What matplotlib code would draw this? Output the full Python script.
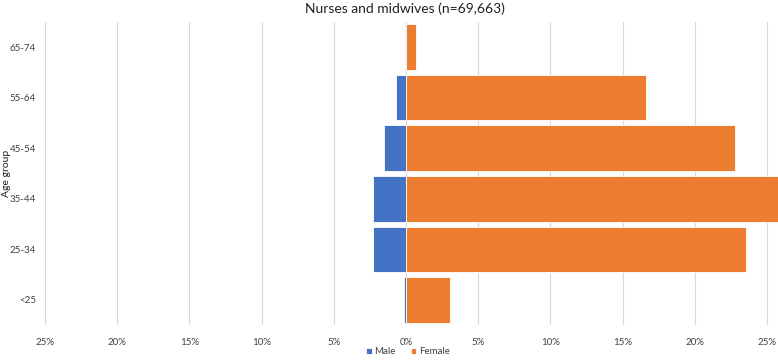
"""
Population pyramid: nurses and midwives by age group and sex.
"""
import matplotlib
matplotlib.use('Agg')
import matplotlib.pyplot as plt
from matplotlib.ticker import FuncFormatter

age_groups = ['<25', '25-34', '35-44', '45-54', '55-64', '65-74']
male_pct = [0.16, 2.3, 2.3, 1.52, 0.66, 0.05]
female_pct = [3.07, 23.56, 26.9, 22.8, 16.65, 0.67]
x_ticks = [-25, -20, -15, -10, -5, 0, 5, 10, 15, 20, 25]

BLUE = '#4472C4'
ORANGE = '#ED7D31'

plt.rcParams['font.family'] = ['Lato', 'DejaVu Sans']

fig = plt.figure(figsize=(7.78, 3.6), dpi=100)
ax = fig.add_axes([40 / 778, 0.0964, 1 - 40 / 778, 0.8433])

ypos = list(range(len(age_groups)))
ax.barh(ypos, [-v for v in male_pct], height=0.9, color=BLUE,
        edgecolor='white', linewidth=0.6, label='Male', zorder=3)
ax.barh(ypos, female_pct, height=0.9, color=ORANGE,
        edgecolor='white', linewidth=0.6, label='Female', zorder=3)

ax.set_xlim(-25.35, 25.77)
ax.set_ylim(-0.5, len(age_groups) - 0.5)
ax.set_xticks(x_ticks)
ax.xaxis.set_major_formatter(FuncFormatter(lambda v, p: f'{abs(int(round(v)))}%'))
ax.set_yticks(ypos)
ax.set_yticklabels(age_groups)
ax.tick_params(axis='both', length=0, labelsize=7, colors='#404040')
ax.tick_params(axis='x', pad=9)
ax.tick_params(axis='y', pad=3)
ax.grid(axis='x', color='#d9d9d9', linewidth=0.8, zorder=0)
for s in ax.spines.values():
    s.set_visible(False)

ax.set_ylabel('Age group', fontsize=7.5, color='#202020')
ax.yaxis.set_label_coords(-0.039, 0.5)

fig.text(405 / 778, 1 - 9 / 360, 'Nurses and midwives (n=69,663)',
         ha='center', va='center', fontsize=10, color='#202020')

fig.legend(loc='center', bbox_to_anchor=(408 / 778, 1 - 352 / 360), ncol=2,
           frameon=False, fontsize=7, handlelength=0.6, handleheight=0.6,
           handletextpad=0.3, columnspacing=1.5, labelcolor='#404040')

fig.savefig('out.png', dpi=100)
